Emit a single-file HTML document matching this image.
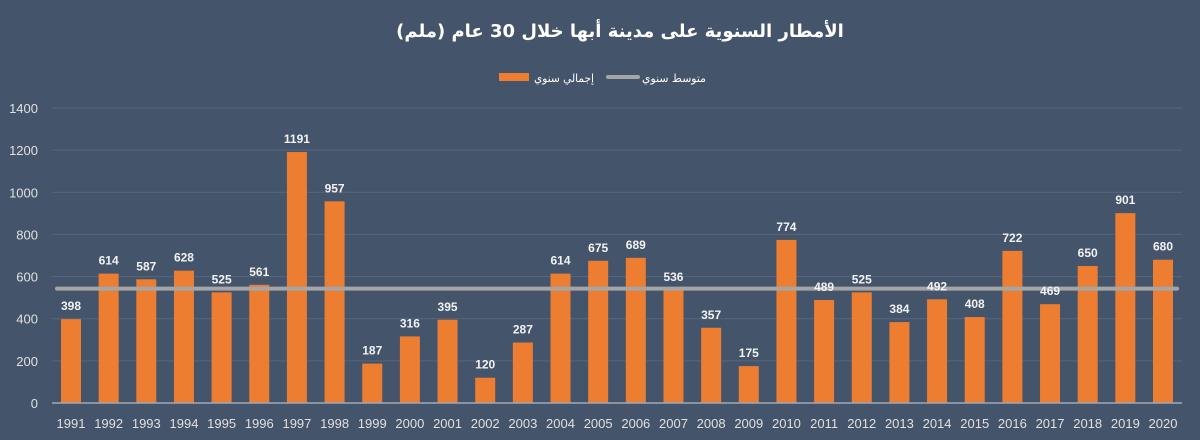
<!DOCTYPE html>
<html><head><meta charset="utf-8"><style>
body{margin:0;background:#44546a;}
svg{display:block;font-family:"Liberation Sans","DejaVu Sans",sans-serif;}
</style></head><body>
<svg id="chart" width="1200" height="440">
<rect width="1200" height="440" fill="#44546a"/>
<text x="620" y="37" text-anchor="middle" fill="#ffffff" font-size="18" font-weight="bold" font-family="'DejaVu Sans','Noto Sans CJK SC',sans-serif">الأمطار السنوية على مدينة أبها خلال 30 عام (ملم)</text>
<g>
<rect x="499" y="73" width="30" height="8" fill="#ed7d31"/>
<text x="534" y="82" fill="#ffffff" font-size="11" font-family="'DejaVu Sans',sans-serif" textLength="60" lengthAdjust="spacingAndGlyphs">إجمالي سنوي</text>
<line x1="608" y1="77" x2="638" y2="77" stroke="#a5a5a5" stroke-width="4" stroke-linecap="round"/>
<text x="642" y="82" fill="#ffffff" font-size="11" font-family="'DejaVu Sans',sans-serif" textLength="64" lengthAdjust="spacingAndGlyphs">متوسط سنوي</text>
</g>
<g id="grid"></g><g id="bars"></g><g id="avg"></g><g id="labels"></g>
</svg>
<script>
const years=[1991,1992,1993,1994,1995,1996,1997,1998,1999,2000,2001,2002,2003,2004,2005,2006,2007,2008,2009,2010,2011,2012,2013,2014,2015,2016,2017,2018,2019,2020];
const rainfall=[398,614,587,628,525,561,1191,957,187,316,395,120,287,614,675,689,536,357,175,774,489,525,384,492,408,722,469,650,901,680];
const average=[543];
const yTicks=[0,200,400,600,800,1000,1200,1400];
const NS='http://www.w3.org/2000/svg';
const y0=403,yTop=108,yMax=1400;
const yScale=v=>y0-(v/yMax)*(y0-yTop);
const x0=71,x1=1163;
const xScale=i=>x0+i*(x1-x0)/(years.length-1);
function mk(tag,attrs,parent,txt){const e=document.createElementNS(NS,tag);for(const k in attrs)e.setAttribute(k,attrs[k]);if(txt!==undefined)e.textContent=txt;document.getElementById(parent).appendChild(e);return e;}
yTicks.forEach(t=>{
 const y=yScale(t);
 if(t>0){const g=mk('line',{x1:52,x2:1182,y1:y,y2:y,stroke:'#56667c','stroke-width':1},'grid');
 
 }
 const l=mk('text',{x:38,y:y+5,'text-anchor':'end',fill:'#e0e0e0','font-size':13},'grid',t);
 
 
});
rainfall.forEach((v,i)=>{
 const cx=xScale(i),y=yScale(v);
 const b=mk('rect',{x:cx-10,y:y,width:20,height:y0-y,fill:'#ed7d31'},'bars');
 
 
 const t=mk('text',{x:cx,y:y-9,'text-anchor':'middle',fill:'#f2f2f2','font-size':12,'font-weight':'bold'},'labels',v);
 
 
 const xl=mk('text',{x:cx,y:428,'text-anchor':'middle',fill:'#e0e0e0','font-size':13},'labels',years[i]);
 
 
});
const ax=mk('line',{x1:52,x2:1182,y1:y0,y2:y0,stroke:'#a0a8b4','stroke-width':1.5},'avg');


const avg=mk('line',{x1:xScale(0)-14,x2:xScale(years.length-1)+14,y1:yScale(average[0]),y2:yScale(average[0]),stroke:'#a5a5a5','stroke-width':4,'stroke-linecap':'round'},'avg');


</script>
</body></html>
